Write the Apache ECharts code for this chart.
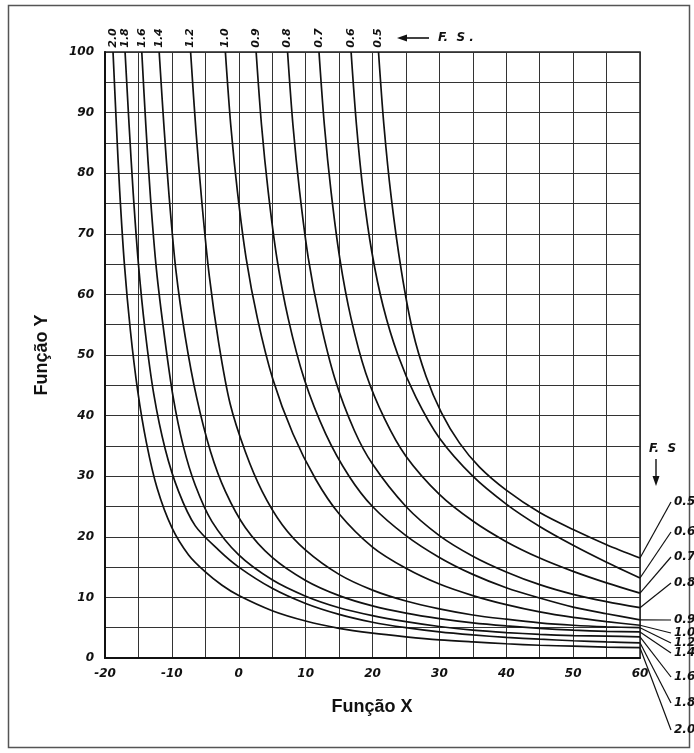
<!DOCTYPE html>
<html>
<head>
<meta charset="utf-8" />
<title>Função X x Função Y - F.S.</title>
<script src="https://cdn.jsdelivr.net/npm/echarts/dist/echarts.min.js"></script>
<style>
body{margin:0;background:#fff;}
#chart{width:694px;height:753px;}
</style>
</head>
<body>
<div id="chart"></div>
<script type="text/javascript">
//F.S. das curvas (mesma ordem de curves)
var fsLabels = ['0.5','0.6','0.7','0.8','0.9','1.0','1.2','1.4','1.6','1.8','2.0'];
//pontos [Função X, Função Y] lidos no ábaco
var fs05 = [[20.9,100],[21.7,88],[22.8,76],[24.3,64],[26,54],[28,46.5],[30.3,40.5],[33,35.5],[36,31.5],[40,27.7],[45,24],[50,21.2],[55,18.7],[60,16.5]];
var fs06 = [[16.8,100],[17.6,88],[18.6,77],[19.9,67],[21.6,58],[23.8,50],[26.5,43],[30,36.3],[35,30],[40,25.4],[45,21.7],[50,18.6],[55,15.8],[60,13.2]];
var fs07 = [[12,100],[12.8,88],[13.8,77],[15.1,66],[16.8,56],[19,47],[21.8,39.5],[25,33.3],[30,27],[35,22.6],[40,19.2],[45,16.5],[50,14.3],[55,12.4],[60,10.7]];
var fs08 = [[7.3,100],[8.1,88],[9.1,77],[10.4,66],[12.1,56],[14.4,46],[17.3,37.5],[20,32],[25,25],[30,20.2],[35,16.8],[40,14.2],[45,12.1],[50,10.5],[55,9.3],[60,8.3]];
var fs09 = [[2.6,100],[3.4,88],[4.4,77],[5.7,66],[7.4,56],[9.8,46],[13,37],[16.5,30],[20,25],[25,20.2],[30,16.6],[35,13.8],[40,11.6],[45,9.9],[50,8.4],[55,7.3],[60,6.3]];
var fs10 = [[-2,100],[-1.2,88],[-0.2,77],[1.1,66],[2.8,56],[5.1,46],[8.1,37],[11.5,29.5],[15,23.8],[20,18.3],[25,14.8],[30,12.2],[35,10.3],[40,8.8],[45,7.6],[50,6.7],[55,6],[60,5.4]];
var fs12 = [[-7.2,100],[-6.4,87],[-5.5,75],[-4.4,63],[-3,52],[-1.3,42],[1,34],[3.5,27.5],[6.5,22],[10,17.8],[15,13.8],[20,11.2],[25,9.4],[30,8.1],[35,7.1],[40,6.4],[45,5.8],[50,5.4],[55,5.15],[60,5.0]];
var fs14 = [[-11.9,100],[-11.2,88],[-10.4,76],[-9.4,64],[-8,53],[-6.3,43],[-4.2,34],[-2,27.5],[1,21.5],[5,16.6],[10,12.8],[15,10.3],[20,8.6],[25,7.4],[30,6.5],[35,5.8],[40,5.3],[45,4.9],[50,4.6],[55,4.4],[60,4.3]];
var fs16 = [[-14.5,100],[-13.9,88],[-13.2,76],[-12.3,64],[-11.1,53],[-9.8,43],[-8.3,35],[-6.5,28.5],[-4,22.5],[0,17],[5,12.9],[10,10.2],[15,8.3],[20,7],[25,6],[30,5.2],[35,4.6],[40,4.2],[45,3.9],[50,3.7],[55,3.6],[60,3.5]];
var fs18 = [[-17,100],[-16.4,88],[-15.8,77],[-15,65],[-14,54],[-12.7,43.5],[-11,34.5],[-9,27.5],[-6.5,21.8],[-3,17.8],[0,15],[5,11.5],[10,9],[15,7.2],[20,5.9],[25,5],[30,4.3],[35,3.8],[40,3.4],[45,3.1],[50,2.85],[55,2.65],[60,2.5]];
var fs20 = [[-18.8,100],[-18.3,88],[-17.8,77],[-17.1,65],[-16.2,54],[-15.1,44],[-13.8,35.5],[-12.2,28],[-10,21.5],[-7.5,17],[-5,14.2],[-2.5,12],[0,10.3],[5,7.8],[10,6.1],[15,4.9],[20,4.1],[25,3.5],[30,3],[35,2.65],[40,2.35],[45,2.1],[50,1.95],[55,1.8],[60,1.7]];
var curves = [fs05, fs06, fs07, fs08, fs09, fs10, fs12, fs14, fs16, fs18, fs20];

var hand = 'italic bold 12px "DejaVu Sans"';
var myChart = echarts.init(document.getElementById('chart'));

var series = [];
for (var i = 0; i < curves.length; i++) {
	series.push({
		name: 'F.S. ' + fsLabels[i],
		type: 'line',
		data: curves[i],
		smooth: 0.3,
		showSymbol: false,
		symbol: 'none',
		silent: true,
		lineStyle: { color: '#111', width: 1.7 }
	});
}

option = {
	animation: false,
	backgroundColor: '#fff',
	grid: { left: 105, top: 52, right: 54, bottom: 95, show: true, borderColor: '#222', borderWidth: 1.5 },
	xAxis: {
		type: 'value', min: -20, max: 60, interval: 5,
		axisLine: { show: true, onZero: false, lineStyle: { color: '#111', width: 2 } },
		axisTick: { show: false },
		splitLine: { show: true, lineStyle: { color: '#333', width: 1 } },
		axisLabel: {
			margin: 10, color: '#111', fontStyle: 'italic', fontWeight: 'bold', fontSize: 12, fontFamily: 'DejaVu Sans',
			formatter: function (v) { return v % 10 === 0 ? v : ''; }
		}
	},
	yAxis: {
		type: 'value', min: 0, max: 100, interval: 5,
		axisLine: { show: true, onZero: false, lineStyle: { color: '#111', width: 2 } },
		axisTick: { show: false },
		splitLine: { show: true, lineStyle: { color: '#333', width: 1 } },
		axisLabel: {
			margin: 11, color: '#111', fontStyle: 'italic', fontWeight: 'bold', fontSize: 12, fontFamily: 'DejaVu Sans',
			formatter: function (v) { return v % 10 === 0 ? v : ''; }
		}
	},
	series: series
};
myChart.setOption(option);

//rótulos, setas e chamadas
var rightLabelY = [502, 532, 557, 583, 620, 633, 643, 653, 677, 703, 730];
var g = [];
g.push({ type: 'rect', shape: { x: 8.5, y: 5.5, width: 681, height: 742 }, style: { fill: null, stroke: '#555', lineWidth: 1.5 }, silent: true });
for (var k = 0; k < curves.length; k++) {
	var topPx = myChart.convertToPixel({ gridIndex: 0 }, [curves[k][0][0], 100]);
	g.push({ type: 'text', x: topPx[0], y: 38, rotation: Math.PI / 2,
		style: { text: fsLabels[k], font: 'italic bold 11px "DejaVu Sans"', fill: '#111', align: 'center', verticalAlign: 'middle' } });
	var last = curves[k][curves[k].length - 1];
	var endPx = myChart.convertToPixel({ gridIndex: 0 }, last);
	g.push({ type: 'line', shape: { x1: endPx[0], y1: endPx[1], x2: 671, y2: rightLabelY[k] }, style: { stroke: '#111', lineWidth: 1.2 } });
	g.push({ type: 'text', x: 674, y: rightLabelY[k],
		style: { text: fsLabels[k], font: hand, fill: '#111', align: 'left', verticalAlign: 'middle' } });
}
//F.S. no topo
g.push({ type: 'line', shape: { x1: 404, y1: 38, x2: 429, y2: 38 }, style: { stroke: '#111', lineWidth: 1.6 } });
g.push({ type: 'polygon', shape: { points: [[397, 38], [407, 34.5], [407, 41.5]] }, style: { fill: '#111' } });
g.push({ type: 'text', x: 438, y: 38, style: { text: 'F.  S .', font: 'italic bold 12px "DejaVu Sans"', fill: '#111', verticalAlign: 'middle' } });
//F.S. à direita
g.push({ type: 'text', x: 649, y: 449, style: { text: 'F.  S', font: 'italic bold 12px "DejaVu Sans"', fill: '#111', verticalAlign: 'middle' } });
g.push({ type: 'line', shape: { x1: 656, y1: 459, x2: 656, y2: 478 }, style: { stroke: '#111', lineWidth: 1.4 } });
g.push({ type: 'polygon', shape: { points: [[656, 486], [652.5, 476], [659.5, 476]] }, style: { fill: '#111' } });
//títulos dos eixos
g.push({ type: 'text', x: 372, y: 707, style: { text: 'Função X', font: 'bold 18px "Liberation Sans"', fill: '#111', align: 'center', verticalAlign: 'middle' } });
g.push({ type: 'text', x: 42, y: 355, rotation: Math.PI / 2, style: { text: 'Função Y', font: 'bold 18px "Liberation Sans"', fill: '#111', align: 'center', verticalAlign: 'middle' } });
myChart.setOption({ graphic: g });
</script>
</body>
</html>
